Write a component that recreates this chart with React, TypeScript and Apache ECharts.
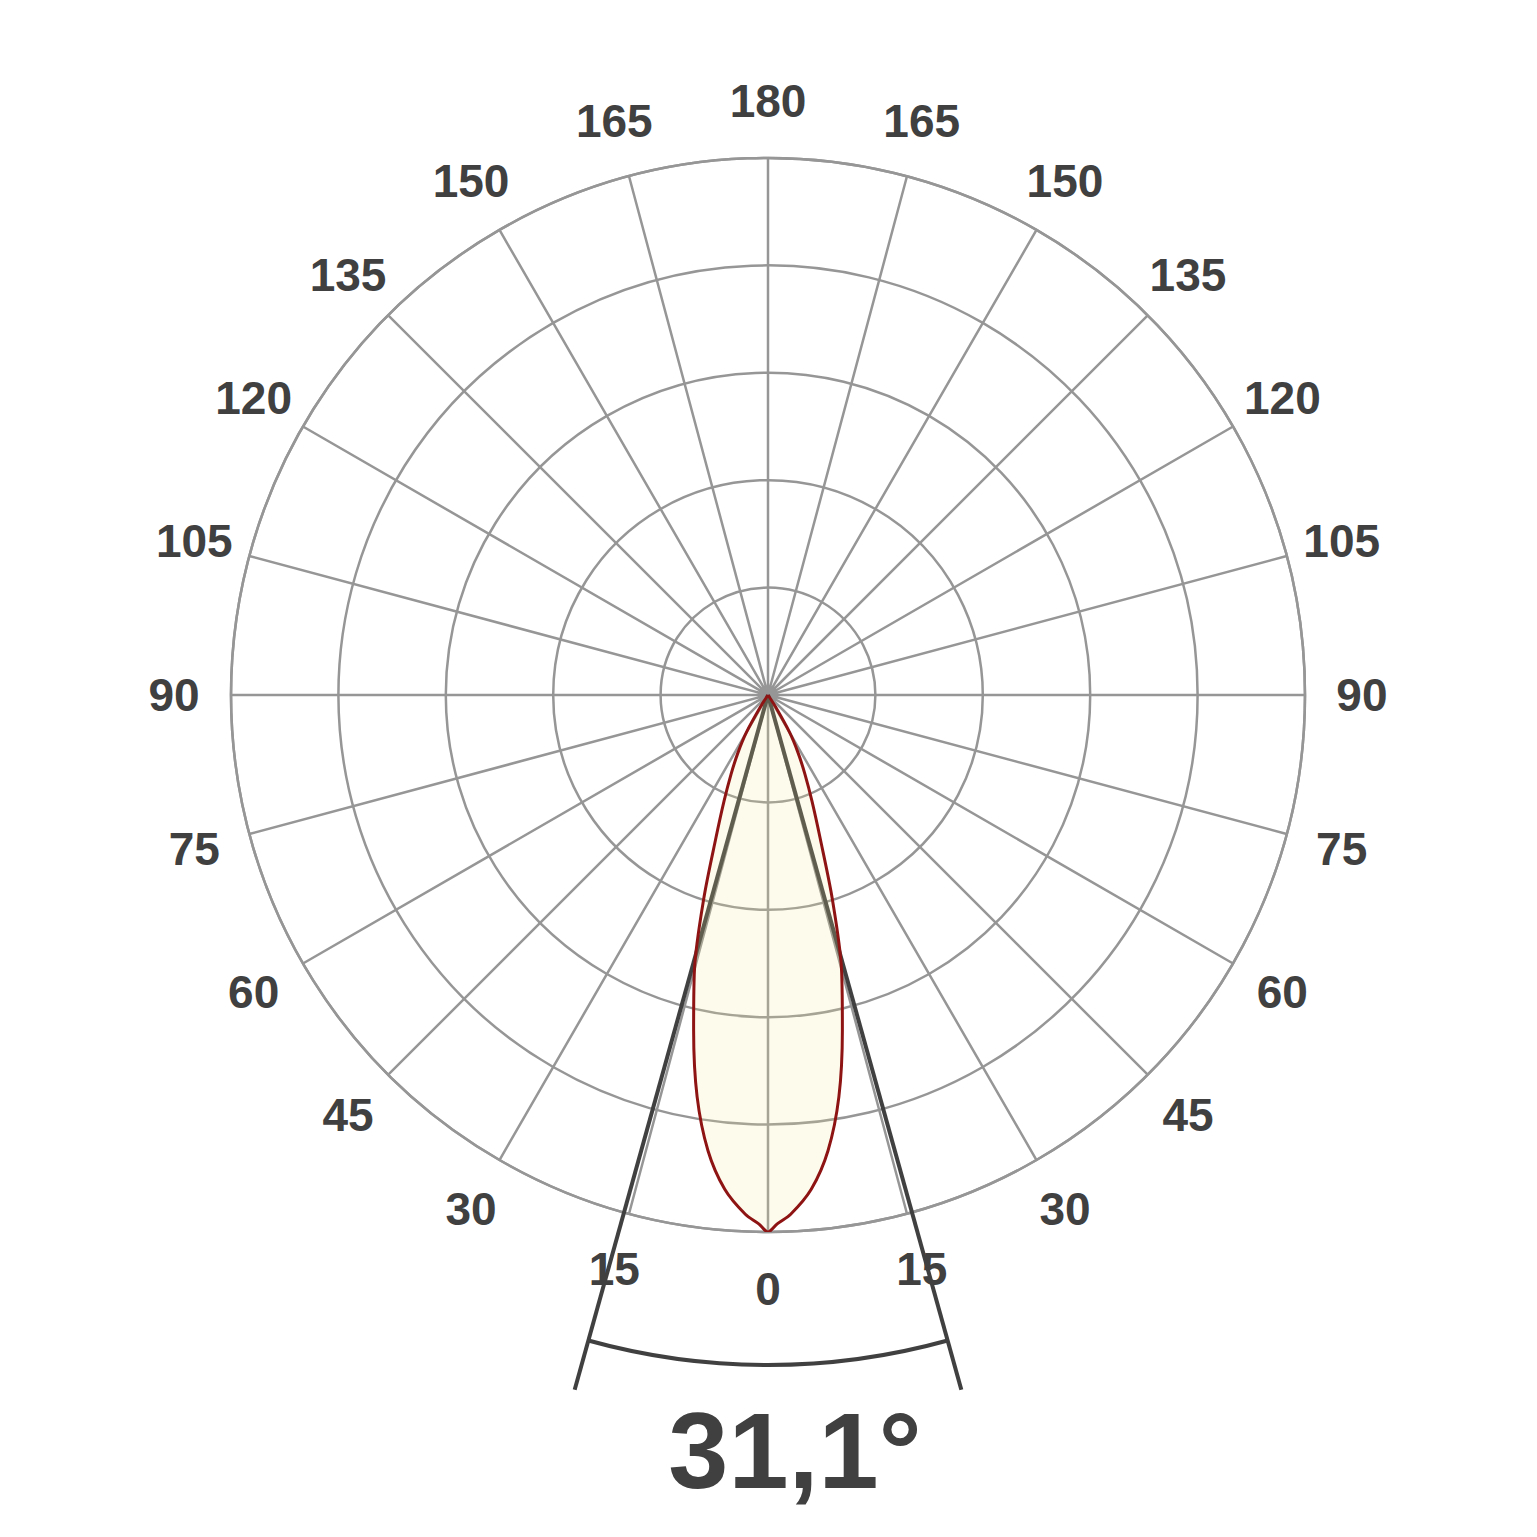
import React, { useEffect, useRef } from "react";
import * as echarts from "echarts";

// Angle tick labels (degrees from nadir), both sides
const tickAngles = [0, 15, 30, 45, 60, 75, 90, 105, 120, 135, 150, 165, 180, -15, -30, -45, -60, -75, -90, -105, -120, -135, -150, -165];

// Luminous intensity curve (relative, half profile, symmetric)
const curveAnglesHalf = [0, 1, 2.5, 5, 7.5, 10, 12.5, 15, 17.5, 20, 22.5, 25, 27.5, 30, 32.5, 35];
const curveValuesHalf = [1.0, 0.985, 0.968, 0.924, 0.856, 0.76, 0.64, 0.529, 0.398, 0.284, 0.214, 0.163, 0.121, 0.08, 0.025, 0];

// Beam angle
const beamAngle = 31.1;
const beamLabel = "31,1°";

const LABEL_R = 1.106;
const BEAM_LINE_R = 1.343;
const BEAM_ARC_R = 1.2477;
const BEAM_TEXT_R = 1.406;

export default function App() {
  const ref = useRef<HTMLDivElement>(null);
  useEffect(() => {
    if (!ref.current) return;
    const chart = echarts.init(ref.current, null, { renderer: "svg" });

    const curveData: number[][] = [];
    for (let i = curveAnglesHalf.length - 1; i > 0; i--) {
      curveData.push([curveValuesHalf[i], -curveAnglesHalf[i]]);
    }
    for (let i = 0; i < curveAnglesHalf.length; i++) {
      curveData.push([curveValuesHalf[i], curveAnglesHalf[i]]);
    }

    const labelData = tickAngles.map((a) => [LABEL_R, a, Math.abs(a)]);
    const font = "'Liberation Sans', Arial, Helvetica, sans-serif";
    const gridColor = "#969696";

    chart.setOption({
      animation: false,
      backgroundColor: "#ffffff",
      polar: { center: [768, 695], radius: 537 },
      angleAxis: {
        type: "value",
        min: -180,
        max: 180,
        interval: 15,
        startAngle: 90,
        clockwise: true,
        axisLine: { show: true, lineStyle: { color: gridColor, width: 2.5 } },
        axisTick: { show: false },
        axisLabel: { show: false },
        splitLine: { show: true, lineStyle: { color: gridColor, width: 2.5 } },
      },
      radiusAxis: {
        type: "value",
        min: 0,
        max: 1,
        interval: 0.2,
        axisLine: { show: false },
        axisTick: { show: false },
        axisLabel: { show: false },
        splitLine: { show: true, lineStyle: { color: gridColor, width: 2.5 } },
      },
      series: [
        {
          type: "custom",
          coordinateSystem: "polar",
          clip: false,
          z: 2,
          data: [[beamAngle]],
          renderItem: (params: any, api: any) => {
            const half = api.value(0) / 2;
            const c = api.coord([0, 0]);
            const pl = api.coord([BEAM_LINE_R, -half]);
            const pr = api.coord([BEAM_LINE_R, half]);
            const al = api.coord([BEAM_ARC_R, -half]);
            const ar = api.coord([BEAM_ARC_R, half]);
            const r = Math.hypot(al[0] - c[0], al[1] - c[1]);
            const a1 = Math.atan2(al[1] - c[1], al[0] - c[0]);
            const a2 = Math.atan2(ar[1] - c[1], ar[0] - c[0]);
            const t = api.coord([BEAM_TEXT_R, 0]);
            const stroke = { stroke: "#404040", lineWidth: 4, fill: null };
            return {
              type: "group",
              children: [
                { type: "line", shape: { x1: c[0], y1: c[1], x2: pl[0], y2: pl[1] }, style: stroke },
                { type: "line", shape: { x1: c[0], y1: c[1], x2: pr[0], y2: pr[1] }, style: stroke },
                {
                  type: "arc",
                  shape: { cx: c[0], cy: c[1], r, startAngle: Math.min(a1, a2), endAngle: Math.max(a1, a2), clockwise: true },
                  style: stroke,
                },
                {
                  type: "text",
                  x: t[0] + 27,
                  y: t[1],
                  style: {
                    text: beamLabel,
                    fill: "#404040",
                    fontSize: 108,
                    fontWeight: "bold",
                    fontFamily: font,
                    align: "center",
                    verticalAlign: "middle",
                  },
                },
              ],
            };
          },
        },
        {
          type: "line",
          coordinateSystem: "polar",
          z: 3,
          clip: false,
          symbol: "none",
          smooth: 0.3,
          data: curveData,
          lineStyle: { color: "#8E1414", width: 3 },
          areaStyle: { color: "rgba(245,232,150,0.25)" },
        },
        {
          type: "scatter",
          coordinateSystem: "polar",
          z: 4,
          clip: false,
          symbolSize: 1,
          itemStyle: { color: "rgba(0,0,0,0)" },
          data: labelData,
          label: {
            show: true,
            position: "inside",
            formatter: (p: any) => String(p.value[2]),
            color: "#404040",
            opacity: 1,
            textBorderWidth: 0,
            textBorderColor: "transparent",
            fontSize: 46,
            fontWeight: "bold",
            fontFamily: font,
          },
        },
      ],
    });
    return () => chart.dispose();
  }, []);

  return (
    <div
      ref={ref}
      style={{ position: "absolute", left: 0, top: 0, width: 1537, height: 1537, background: "#fff" }}
    />
  );
}
